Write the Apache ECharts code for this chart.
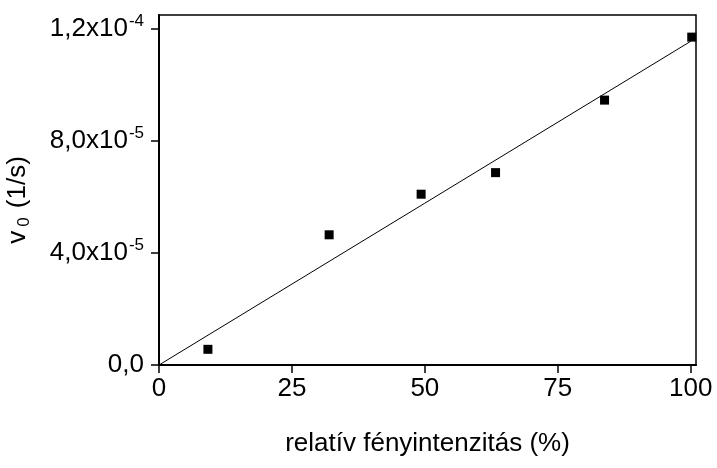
<!DOCTYPE html>
<html>
<head>
<meta charset="utf-8">
<script src="https://cdn.jsdelivr.net/npm/echarts@6/dist/echarts.min.js"></script>
<style>html,body{margin:0;padding:0;background:#fff}#c{width:717px;height:468px}</style>
</head>
<body>
<div id="c"></div>
<script>
const xValues = [9.2, 32.0, 49.3, 63.3, 83.8, 100.2];
const yValues = [5.6e-6, 4.65e-5, 6.10e-5, 6.87e-5, 9.46e-5, 1.171e-4];
const fitX = [0, 100];
const fitY = [0, 1.156e-4];
const xTicks = [0, 25, 50, 75, 100];
const yTicks = [0, 4e-5, 8e-5, 1.2e-4];
const xTitle = 'relatív fényintenzitás (%)';
const yTitleMain = 'v';
const yTitleSub = '0';
const yTitleRest = ' (1/s)';

const FONT = '"Liberation Sans", Arial, sans-serif';
const FS = 26;

function yFmt(v) {
  if (Math.abs(v) < 1e-12) return '{m|0,0}';
  const exp = Math.floor(Math.log10(v) + 1e-9);
  const mant = v / Math.pow(10, exp);
  return '{m|' + mant.toFixed(1).replace('.', ',') + 'x10}{s|' + exp + '}';
}

const chart = echarts.init(document.getElementById('c'), null, {renderer: 'canvas'});
chart.setOption({
  animation: false,
  backgroundColor: '#fff',
  grid: {left: 159, right: 21, top: 15, bottom: 103, show: true, borderColor: '#000', borderWidth: 1.5, backgroundColor: 'transparent', containLabel: false, outerBoundsMode: 'none'},
  xAxis: {
    type: 'value', min: 0, max: 101,
    name: xTitle, nameLocation: 'middle', nameGap: 66,
    nameTextStyle: {fontFamily: FONT, fontSize: FS, color: '#000'},
    axisLine: {show: true, lineStyle: {color: '#000', width: 2}},
    axisTick: {show: true, inside: false, length: 8, lineStyle: {color: '#000', width: 1.5}, customValues: xTicks},
    axisLabel: {fontFamily: FONT, fontSize: FS, color: '#000', margin: 11, customValues: xTicks},
    splitLine: {show: false}
  },
  yAxis: {
    type: 'value', min: 0, max: 1.25e-4,
    name: '{m|' + yTitleMain + '}{s|' + yTitleSub + '}{m|' + yTitleRest + '}',
    nameLocation: 'middle', nameGap: 126, nameRotate: 90,
    nameTextStyle: {
      fontFamily: FONT, fontSize: FS, color: '#000',
      padding: [0, 20, 0, 0],
      rich: {
        m: {fontFamily: FONT, fontSize: FS, color: '#000'},
        s: {fontFamily: FONT, fontSize: 17, color: '#000', verticalAlign: 'bottom', padding: [14, 2, 0, 4]}
      }
    },
    axisLine: {show: true, lineStyle: {color: '#000', width: 2}},
    axisTick: {show: true, inside: false, length: 8, lineStyle: {color: '#000', width: 1.5}, customValues: yTicks},
    axisLabel: {
      fontFamily: FONT, fontSize: FS, color: '#000', margin: 15, customValues: yTicks,
      formatter: yFmt,
      rich: {
        m: {fontFamily: FONT, fontSize: FS, color: '#000'},
        s: {fontFamily: FONT, fontSize: 17, color: '#000', verticalAlign: 'top', padding: [0, 0, 16, 1]}
      }
    },
    splitLine: {show: false}
  },
  series: [
    {
      type: 'line',
      data: fitX.map((x, i) => [x, fitY[i]]),
      showSymbol: false, symbol: 'none',
      lineStyle: {color: '#000', width: 1},
      silent: true
    },
    {
      type: 'scatter',
      data: xValues.map((x, i) => [x, yValues[i]]),
      symbol: 'rect', symbolSize: 9,
      itemStyle: {color: '#000', opacity: 1},
      clip: false
    }
  ]
});
</script>
</body>
</html>
